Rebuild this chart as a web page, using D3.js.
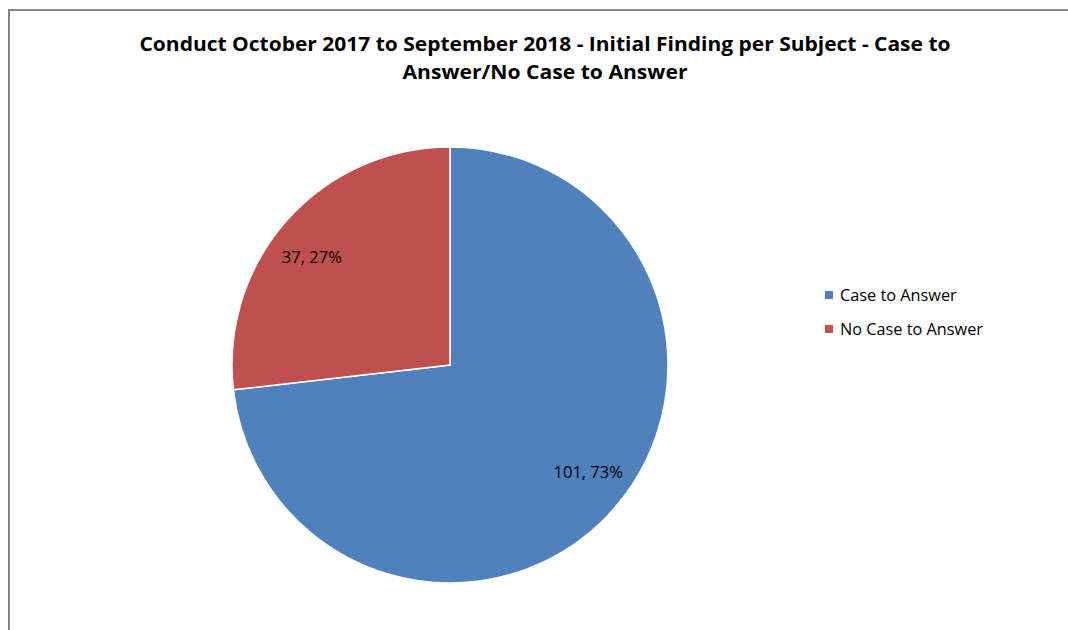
<!DOCTYPE html>
<html><head><meta charset="utf-8">
<script src="https://cdn.jsdelivr.net/npm/d3@7"></script>
<style>body{margin:0;background:#fff}svg{display:block}</style>
</head><body>
<svg id="c" width="1068" height="630"></svg>
<script>
const categories = ["Case to Answer", "No Case to Answer"];
const values = [101, 37];
const percents = ["73%", "27%"];
const colors = ["#4F81BD", "#C0504D"];
const titleLines = ["Conduct  October 2017 to September 2018 - Initial Finding per Subject - Case to", "Answer/No Case to Answer"];

const svg = d3.select("#c");
const font = "'Open Sans', 'Liberation Sans', sans-serif";
svg.append("rect").attr("x", 9).attr("y", 10).attr("width", 1070).attr("height", 640)
  .attr("fill", "#fff").attr("stroke", "#868686").attr("stroke-width", 2);

const tw = [811, 285];
svg.selectAll("text.title").data(titleLines).join("text")
  .attr("class", "title")
  .attr("x", 545).attr("y", (d, i) => 51 + i * 28)
  .attr("text-anchor", "middle")
  .attr("font-family", font).attr("font-weight", "bold").attr("font-size", 20)
  .attr("textLength", (d, i) => tw[i]).attr("lengthAdjust", "spacingAndGlyphs")
  .text(d => d);

const cx = 450, cy = 365, R = 218;
const pie = d3.pie().sort(null).value(d => d);
const arcs = pie(values);
const arc = d3.arc().innerRadius(0).outerRadius(R);
const labelR = 175, labelShift = -0.068;
const labelPos = d => {
  const a = (d.startAngle + d.endAngle) / 2 + labelShift;
  return [Math.sin(a) * labelR, -Math.cos(a) * labelR];
};
const g = svg.append("g").attr("transform", `translate(${cx},${cy})`);
g.selectAll("path").data(arcs).join("path")
  .attr("d", arc).attr("fill", (d, i) => colors[i])
  .attr("stroke", "#fff").attr("stroke-width", 1.5);
g.selectAll("text").data(arcs).join("text")
  .attr("transform", d => `translate(${labelPos(d)})`)
  .attr("text-anchor", "middle").attr("dy", "0.35em")
  .attr("font-family", font).attr("font-size", 16.5).attr("fill", "#000")
  .text((d, i) => `${values[i]}, ${percents[i]}`);

const leg = svg.append("g");
categories.forEach((c, i) => {
  leg.append("rect").attr("x", 825).attr("y", 291 + i * 34).attr("width", 8).attr("height", 8).attr("fill", colors[i]);
  leg.append("text").attr("x", 840).attr("y", 301 + i * 34)
    .attr("font-family", font).attr("font-size", 16.3).attr("fill", "#000").text(c);
});
</script>
</body></html>
